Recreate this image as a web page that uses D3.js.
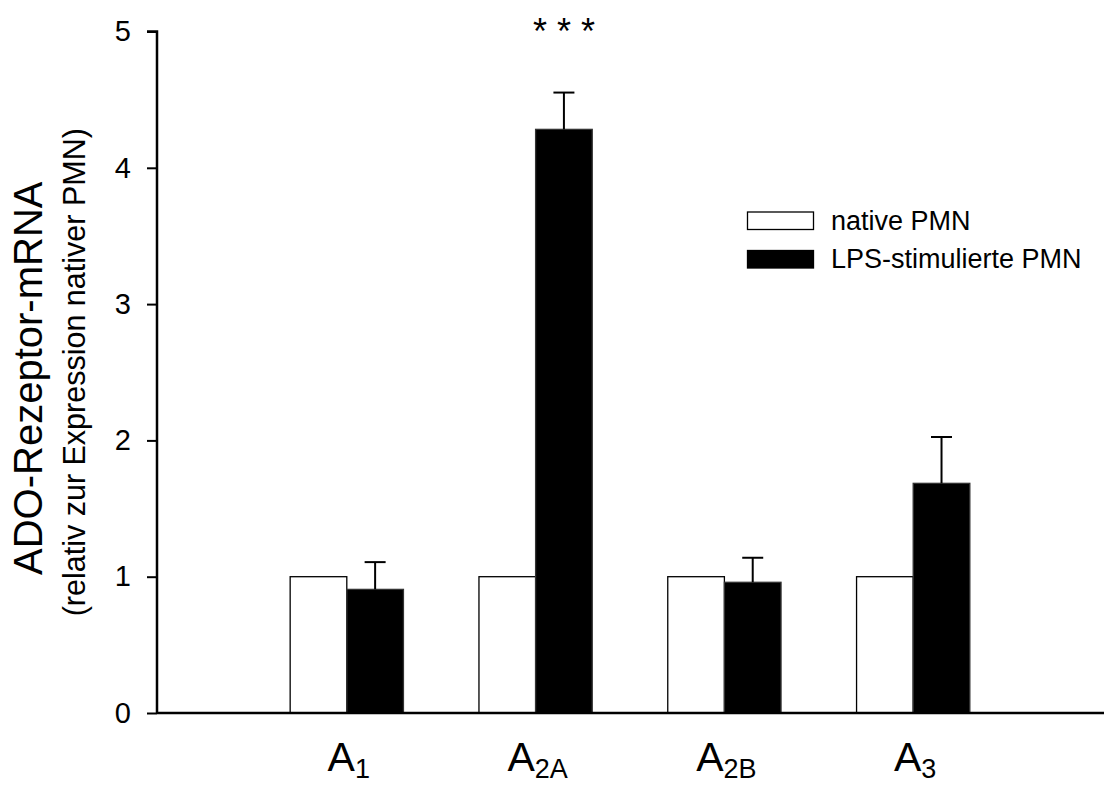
<!DOCTYPE html>
<html><head><meta charset="utf-8">
<script src="https://cdn.jsdelivr.net/npm/d3@7"></script>
<style>body{margin:0;background:#fff}svg{display:block;font-family:Arial,"Liberation Sans",sans-serif}</style>
</head><body><svg id="c" width="1104" height="785"></svg>
<script>
const categories = ["A1","A2A","A2B","A3"];
const catMain = ["A","A","A","A"];
const catSub = ["1","2A","2B","3"];
const seriesNames = ["native PMN","LPS-stimulierte PMN"];
const nativeVals = [1,1,1,1];
const lpsVals = [0.907,4.282,0.959,1.685];
const lpsErr = [0.20,0.27,0.18,0.34];
const yTicks = [0,1,2,3,4,5];
const sigLabels = ["","* * *","",""];

const svg = d3.select("#c");
const x = d3.scaleLinear().domain([0,5]).range([158,1102]);
const y = d3.scaleLinear().domain([0,5]).range([713,31.5]);
const step = x(1)-x(0);
const bw = step*0.3;

// bars
const g = svg.append("g");
categories.forEach((c,i)=>{
  const cx = x(i+1);
  g.append("rect").attr("x",cx-bw).attr("y",y(nativeVals[i])).attr("width",bw).attr("height",y(0)-y(nativeVals[i]))
    .attr("fill","#fff").attr("stroke","#000").attr("stroke-width",1.3);
  g.append("rect").attr("x",cx).attr("y",y(lpsVals[i])).attr("width",bw).attr("height",y(0)-y(lpsVals[i]))
    .attr("fill","#000").attr("stroke","#333").attr("stroke-width",1.3);
  const ex = cx+bw/2;
  g.append("line").attr("x1",ex).attr("x2",ex).attr("y1",y(lpsVals[i])).attr("y2",y(lpsVals[i]+lpsErr[i]))
    .attr("stroke","#000").attr("stroke-width",2);
  g.append("line").attr("x1",ex-10.5).attr("x2",ex+10.5).attr("y1",y(lpsVals[i]+lpsErr[i])).attr("y2",y(lpsVals[i]+lpsErr[i]))
    .attr("stroke","#000").attr("stroke-width",2);
  if(sigLabels[i]) svg.append("text").attr("x",ex).attr("y",44).attr("text-anchor","middle")
    .attr("font-size",36).text(sigLabels[i]);
  const t = svg.append("text").attr("x",cx+2).attr("y",771).attr("text-anchor","middle").attr("font-size",41);
  t.append("tspan").text(catMain[i]);
  t.append("tspan").attr("font-size",27).attr("dy",7).text(catSub[i]);
});

// y axis
const ya = svg.append("g").attr("transform",`translate(${x(0)-1},0)`)
  .call(d3.axisLeft(y).tickValues(yTicks).tickSize(10).tickPadding(16).tickFormat(d3.format("d")));
ya.select(".domain").attr("stroke-width",2.5).attr("d",`M-10,${y(5)}H0V${y(0)}`);
ya.selectAll(".tick line").attr("stroke-width",2);
ya.selectAll(".tick text").attr("font-size",29).attr("font-family","Arial,'Liberation Sans',sans-serif");

// x axis line
svg.append("line").attr("x1",x(0)-1).attr("x2",1104).attr("y1",y(0)).attr("y2",y(0))
  .attr("stroke","#000").attr("stroke-width",2.5);

// y titles
svg.append("text").attr("transform",`translate(42,${(y(0)+y(5))/2+6}) rotate(-90)`).attr("text-anchor","middle")
  .attr("font-size",40).text("ADO-Rezeptor-mRNA");
svg.append("text").attr("transform",`translate(85,${(y(0)+y(5))/2}) rotate(-90)`).attr("text-anchor","middle")
  .attr("font-size",30.5).text("(relativ zur Expression nativer PMN)");

// legend
const lg = svg.append("g");
const fills = ["#fff","#000"];
seriesNames.forEach((s,i)=>{
  const yy = 212 + i*38.5;
  lg.append("rect").attr("x",747.5).attr("y",yy).attr("width",66).attr("height",17.5)
    .attr("fill",fills[i]).attr("stroke","#000").attr("stroke-width",1.3);
  lg.append("text").attr("x",831).attr("y",yy+17.5).attr("font-size",27).text(s);
});
</script></body></html>
